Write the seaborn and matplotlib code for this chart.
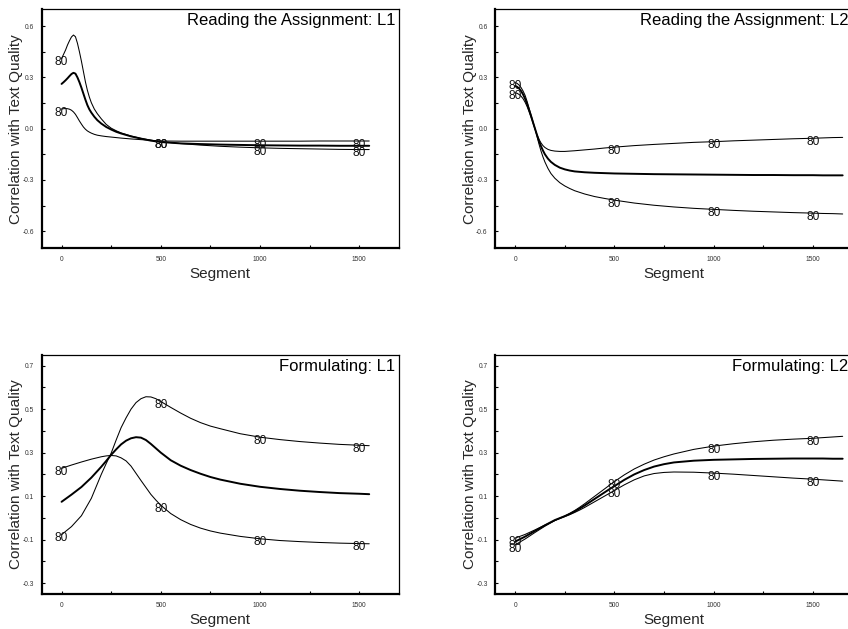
import matplotlib
matplotlib.use("Agg")
import matplotlib.pyplot as plt
from matplotlib.ticker import MultipleLocator, FormatStrFormatter
import pandas as pd
import seaborn as sns

# Segment positions at which each curve is sampled (denser where curves bend)
segments_ra_l1 = [0, 10, 20, 30, 40, 50, 60, 70, 80, 90, 100, 110, 120, 130, 140,
                  150, 165, 180, 200, 225, 250, 275, 300, 350, 400, 450, 500, 600,
                  700, 800, 900, 1000, 1100, 1200, 1300, 1400, 1500, 1550]
segments_ra_l2 = segments_ra_l1 + [1600, 1650]
segments_fo_l1 = [0, 50, 100, 150, 200, 225, 250, 275, 300, 325, 350, 375, 400,
                  425, 450, 475, 500, 550, 600, 650, 700, 750, 800, 900, 1000,
                  1100, 1200, 1300, 1400, 1500, 1550]
segments_fo_l2 = segments_fo_l1 + [1600, 1650]

# Reading the Assignment: L1
ra_l1_a = [0.41, 0.435, 0.46, 0.49, 0.515, 0.537, 0.548, 0.538, 0.50, 0.45, 0.395,
           0.335, 0.275, 0.225, 0.185, 0.152, 0.115, 0.088, 0.058, 0.025, 0.003,
           -0.012, -0.025, -0.043, -0.057, -0.067, -0.076, -0.087, -0.096, -0.103,
           -0.108, -0.112, -0.115, -0.117, -0.119, -0.121, -0.122, -0.122]
ra_l1_mid = [0.262, 0.272, 0.283, 0.295, 0.308, 0.32, 0.327, 0.322, 0.30, 0.272,
             0.24, 0.205, 0.17, 0.138, 0.113, 0.094, 0.07, 0.05, 0.03, 0.01, -0.005,
             -0.018, -0.028, -0.045, -0.058, -0.07, -0.078, -0.086, -0.09, -0.093,
             -0.095, -0.097, -0.098, -0.099, -0.099, -0.1, -0.1, -0.1]
ra_l1_b = [0.115, 0.117, 0.118, 0.117, 0.114, 0.108, 0.098, 0.084, 0.065, 0.045,
           0.027, 0.01, -0.003, -0.013, -0.02, -0.026, -0.033, -0.038, -0.042,
           -0.046, -0.049, -0.052, -0.055, -0.06, -0.064, -0.068, -0.072, -0.073,
           -0.073, -0.073, -0.073, -0.073, -0.073, -0.073, -0.072, -0.072, -0.072,
           -0.072]

# Reading the Assignment: L2
ra_l2_a = [0.27, 0.265, 0.255, 0.24, 0.22, 0.195, 0.16, 0.12, 0.08, 0.04, 0.0,
           -0.045, -0.09, -0.13, -0.165, -0.195, -0.232, -0.262, -0.29, -0.316,
           -0.335, -0.35, -0.363, -0.382, -0.397, -0.408, -0.418, -0.435, -0.448,
           -0.458, -0.466, -0.472, -0.478, -0.483, -0.487, -0.491, -0.494, -0.496,
           -0.497, -0.499]
ra_l2_mid = [0.25, 0.245, 0.235, 0.22, 0.2, 0.175, 0.145, 0.11, 0.075, 0.037, 0.0,
             -0.037, -0.072, -0.102, -0.128, -0.15, -0.175, -0.194, -0.212, -0.228,
             -0.238, -0.245, -0.25, -0.255, -0.258, -0.26, -0.262, -0.264, -0.266,
             -0.267, -0.268, -0.269, -0.27, -0.271, -0.271, -0.272, -0.272, -0.273,
             -0.273, -0.273]
ra_l2_b = [0.21, 0.207, 0.2, 0.19, 0.175, 0.155, 0.13, 0.1, 0.067, 0.032, -0.003,
           -0.035, -0.062, -0.083, -0.099, -0.11, -0.121, -0.127, -0.131, -0.133,
           -0.133, -0.131, -0.129, -0.124, -0.119, -0.113, -0.108, -0.099, -0.092,
           -0.086, -0.08, -0.076, -0.071, -0.067, -0.063, -0.059, -0.056, -0.054,
           -0.052, -0.051]

# Formulating: L1
fo_l1_a = [0.228, 0.243, 0.257, 0.27, 0.281, 0.285, 0.287, 0.285, 0.276, 0.262,
           0.238, 0.205, 0.172, 0.14, 0.108, 0.082, 0.058, 0.02, -0.008, -0.03,
           -0.047, -0.06, -0.07, -0.085, -0.096, -0.104, -0.109, -0.113, -0.116,
           -0.118, -0.119]
fo_l1_mid = [0.074, 0.107, 0.142, 0.185, 0.235, 0.262, 0.29, 0.315, 0.338, 0.355,
             0.366, 0.371, 0.369, 0.358, 0.34, 0.32, 0.30, 0.265, 0.24, 0.22, 0.203,
             0.188, 0.176, 0.157, 0.143, 0.133, 0.125, 0.119, 0.114, 0.111, 0.109]
fo_l1_b = [-0.077, -0.04, 0.01, 0.09, 0.2, 0.25, 0.298, 0.358, 0.415, 0.46, 0.5,
           0.53, 0.548, 0.557, 0.556, 0.548, 0.535, 0.508, 0.482, 0.458, 0.438,
           0.422, 0.41, 0.387, 0.371, 0.36, 0.351, 0.344, 0.338, 0.334, 0.332]

# Formulating: L2
fo_l2_a = [-0.093, -0.076, -0.055, -0.033, -0.012, -0.003, 0.006, 0.015, 0.025,
           0.036, 0.048, 0.061, 0.074, 0.087, 0.1, 0.113, 0.126, 0.152, 0.175,
           0.193, 0.204, 0.209, 0.211, 0.21, 0.206, 0.201, 0.195, 0.189, 0.183,
           0.178, 0.175, 0.172, 0.169]
fo_l2_mid = [-0.109, -0.086, -0.06, -0.034, -0.01, -0.001, 0.008, 0.018, 0.03,
             0.043, 0.057, 0.072, 0.087, 0.102, 0.117, 0.132, 0.146, 0.175, 0.2,
             0.22, 0.236, 0.247, 0.255, 0.263, 0.267, 0.269, 0.271, 0.272, 0.273,
             0.273, 0.273, 0.272, 0.272]
fo_l2_b = [-0.124, -0.097, -0.067, -0.038, -0.012, -0.001, 0.009, 0.021, 0.034,
           0.049, 0.065, 0.082, 0.099, 0.116, 0.133, 0.15, 0.167, 0.198, 0.225,
           0.247, 0.266, 0.281, 0.294, 0.315, 0.33, 0.341, 0.35, 0.357, 0.362,
           0.366, 0.369, 0.372, 0.375]

panel_titles = ["Reading the Assignment: L1", "Reading the Assignment: L2",
                "Formulating: L1", "Formulating: L2"]
label_segments = [0, 500, 1000, 1500]
band_label = "80"

sns.set_theme(style="ticks")
plt.rcParams["font.family"] = ["Liberation Sans", "DejaVu Sans"]

fig = plt.figure(figsize=(8.48, 6.29), dpi=100)
fig.patch.set_facecolor("white")

left_x, right_x = 0.0492, 0.5841
top_y, bottom_y = 0.6052, 0.0556
ax_w, ax_h = 0.4213, 0.3804

panels = [
    (left_x, top_y, segments_ra_l1, ra_l1_a, ra_l1_mid, ra_l1_b, "top"),
    (right_x, top_y, segments_ra_l2, ra_l2_a, ra_l2_mid, ra_l2_b, "top"),
    (left_x, bottom_y, segments_fo_l1, fo_l1_a, fo_l1_mid, fo_l1_b, "bottom"),
    (right_x, bottom_y, segments_fo_l2, fo_l2_a, fo_l2_mid, fo_l2_b, "bottom"),
]

for (x0, y0, seg, cur_a, cur_mid, cur_b, row), title in zip(panels, panel_titles):
    ax = fig.add_axes([x0, y0, ax_w, ax_h])
    ax.set_facecolor("white")

    for vals, lw in ((cur_a, 0.75), (cur_mid, 1.4), (cur_b, 0.75)):
        df = pd.DataFrame({"Segment": seg, "r": vals})
        sns.lineplot(data=df, x="Segment", y="r", ax=ax, color="black",
                     linewidth=lw, estimator=None, sort=False)

    # "80" band labels riding on the two outer curves
    for vals in (cur_a, cur_b):
        for s in label_segments:
            yv = vals[seg.index(s)]
            ax.annotate(band_label, xy=(s, yv), xytext=(0, -4.8),
                        textcoords="offset points", ha="center", va="baseline",
                        fontsize=8.6, color="#111111")

    ax.set_xlim(-100, 1700)
    ax.xaxis.set_major_locator(MultipleLocator(500))
    ax.xaxis.set_minor_locator(MultipleLocator(250))
    if row == "top":
        ax.set_ylim(-0.7, 0.7)
        ax.set_yticks([-0.6, -0.3, 0.0, 0.3, 0.6])
        ax.set_yticks([-0.45, -0.15, 0.15, 0.45], minor=True)
    else:
        ax.set_ylim(-0.35, 0.75)
        ax.set_yticks([-0.3, -0.1, 0.1, 0.3, 0.5, 0.7])
        ax.set_yticks([-0.2, 0.0, 0.2, 0.4, 0.6], minor=True)
    ax.yaxis.set_major_formatter(FormatStrFormatter("%.1f"))
    ax.xaxis.set_major_formatter(FormatStrFormatter("%d"))

    ax.tick_params(which="both", direction="in", length=2.2, width=0.8,
                   color="black", top=False, right=False)
    ax.tick_params(which="major", labelsize=4.8, labelcolor="#333333", pad=5.5)

    for side in ("left", "bottom"):
        ax.spines[side].set_linewidth(1.6)
        ax.spines[side].set_color("black")
    for side in ("top", "right"):
        ax.spines[side].set_linewidth(0.9)
        ax.spines[side].set_color("black")
        ax.spines[side].set_visible(True)

    ax.set_xlabel("Segment", fontsize=11, labelpad=3)
    ax.set_ylabel("Correlation with Text Quality", fontsize=11, labelpad=-0.5)

    ax.text(0.989, 0.984, title, transform=ax.transAxes, ha="right", va="top",
            fontsize=12, color="black")

fig.savefig("out.png", dpi=100)
